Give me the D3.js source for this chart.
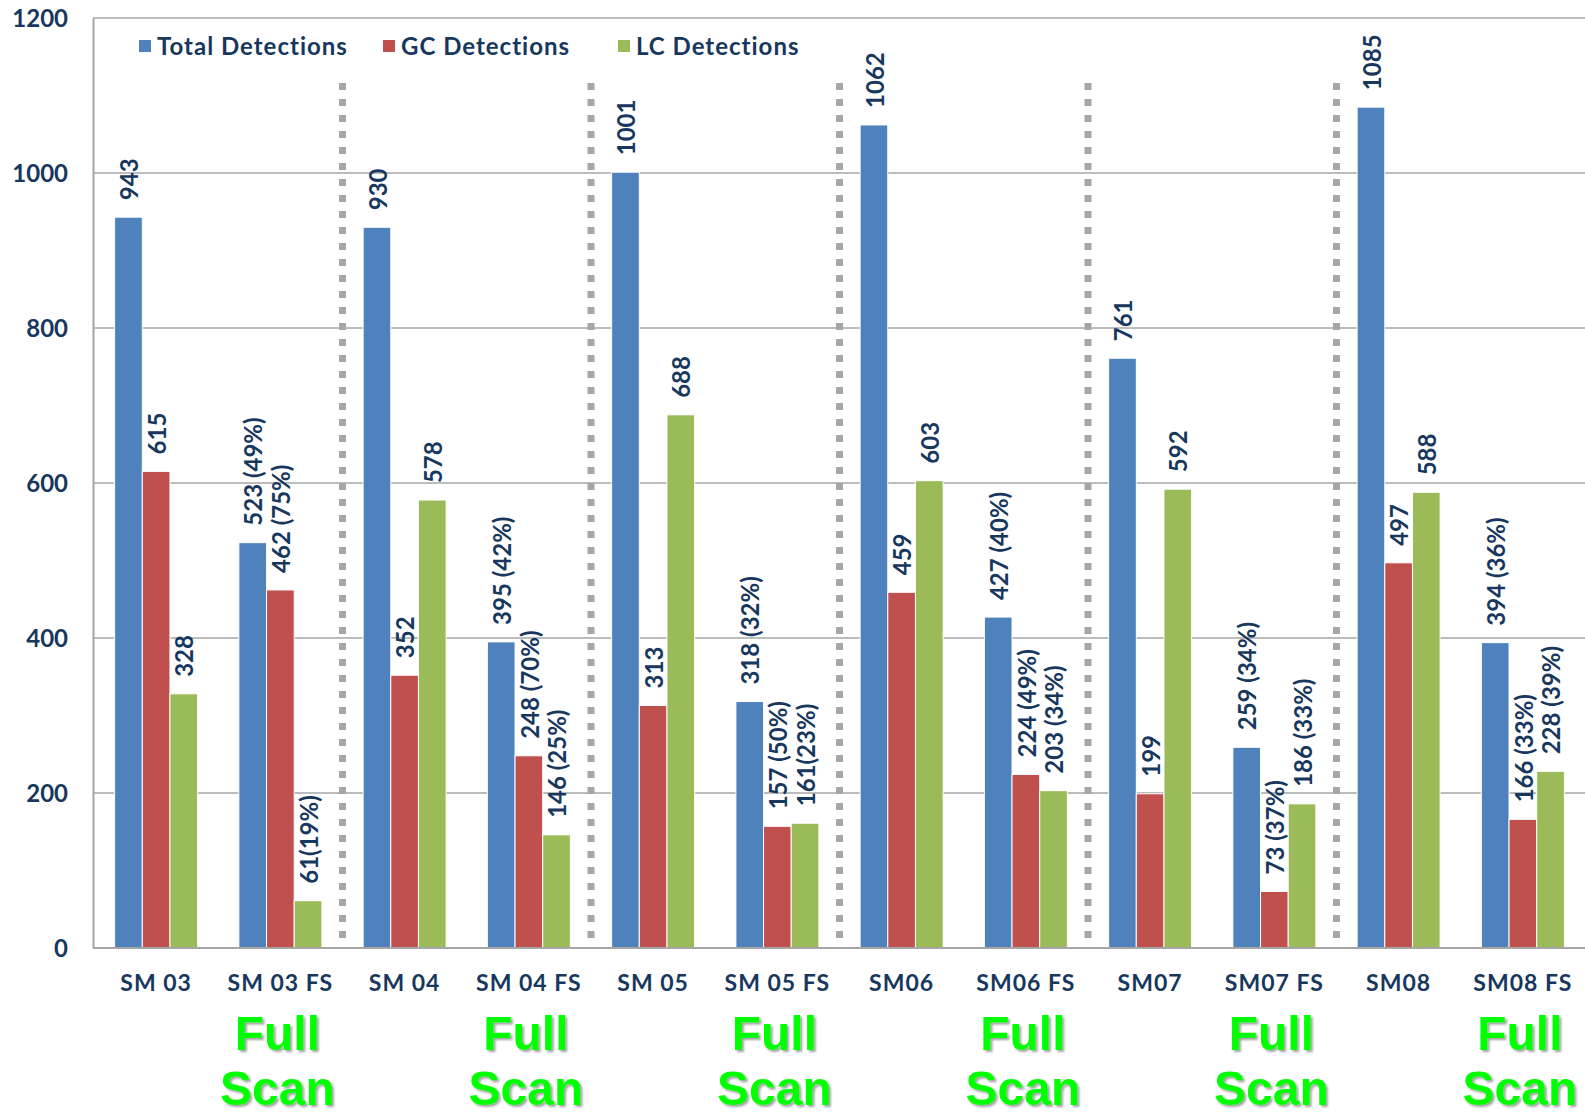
<!DOCTYPE html>
<html>
<head>
<meta charset="utf-8">
<script src="https://cdn.jsdelivr.net/npm/d3@7"></script>
<style>
  html, body { margin: 0; padding: 0; background: #fff; }
  svg { display: block; }
</style>
</head>
<body>
<svg id="chart" width="1585" height="1114"></svg>
<script>
// Detection counts per sample method; "FS" runs are full scans.
const categories = ["SM 03", "SM 03 FS", "SM 04", "SM 04 FS", "SM 05", "SM 05 FS",
                    "SM06", "SM06 FS", "SM07", "SM07 FS", "SM08", "SM08 FS"];
const totalDetections = [943, 523, 930, 395, 1001, 318, 1062, 427, 761, 259, 1085, 394];
const gcDetections    = [615, 462, 352, 248, 313, 157, 459, 224, 199, 73, 497, 166];
const lcDetections    = [328, 61, 578, 146, 688, 161, 603, 203, 592, 186, 588, 228];

// Share annotations printed after the full-scan counts.
const totalPct = ["", " (49%)", "", " (42%)", "", " (32%)", "", " (40%)", "", " (34%)", "", " (36%)"];
const gcPct    = ["", " (75%)", "", " (70%)", "", " (50%)", "", " (49%)", "", " (37%)", "", " (33%)"];
const lcPct    = ["", "(19%)", "", " (25%)", "", "(23%)", "", " (34%)", "", " (33%)", "", " (39%)"];

const seriesNames = ["Total Detections", "GC Detections", "LC Detections"];
const seriesColors = ["#4f81bd", "#c0504d", "#9bbb59"];
const yTicks = [0, 200, 400, 600, 800, 1000, 1200];
const scanNote = ["Full", "Scan"];

const series = [
  { name: seriesNames[0], values: totalDetections, pct: totalPct, color: seriesColors[0] },
  { name: seriesNames[1], values: gcDetections,    pct: gcPct,    color: seriesColors[1] },
  { name: seriesNames[2], values: lcDetections,    pct: lcPct,    color: seriesColors[2] }
];

const svg = d3.select("#chart");
const textColor = "#17375e";
const font = "Lato, 'Open Sans', sans-serif";

const plotLeft = 93, plotRight = 1585, plotTop = 18, plotBottom = 948;

const x = d3.scaleBand().domain(categories).range([plotLeft + 1, plotRight])
  .paddingInner(0.332).paddingOuter(0.166);
const xs = d3.scaleBand().domain(seriesNames).range([0, x.bandwidth()]);
const y = d3.scaleLinear().domain([0, 1200]).range([plotBottom, plotTop]);

// Drop shadow for the full-scan notes
const defs = svg.append("defs");
const f = defs.append("filter").attr("id", "shadow")
  .attr("x", "-10%").attr("y", "-10%").attr("width", "130%").attr("height", "130%");
f.append("feDropShadow").attr("dx", 2).attr("dy", 2).attr("stdDeviation", 1)
  .attr("flood-color", "#555").attr("flood-opacity", 0.55);

// Gridlines
svg.append("g").selectAll("line").data(yTicks.filter(d => d > 0)).join("line")
  .attr("x1", plotLeft).attr("x2", plotRight)
  .attr("y1", d => y(d)).attr("y2", d => y(d))
  .attr("stroke", "#a6a6a6").attr("stroke-width", 1.5);

// Y axis with tick labels
const yAxis = d3.axisLeft(y).tickValues(yTicks).tickFormat(d3.format("d"))
  .tickSize(0).tickPadding(25);
const yg = svg.append("g").attr("transform", `translate(${plotLeft},0)`).call(yAxis);
yg.select(".domain").attr("stroke", "#a6a6a6").attr("stroke-width", 2);
yg.selectAll("text")
  .attr("font-family", font).attr("font-weight", 700).attr("font-size", 24)
  .attr("fill", textColor).attr("dy", "0.36em");

// Category separators
const sepIdx = [2, 4, 6, 8, 10];
svg.append("g").selectAll("line").data(sepIdx).join("line")
  .attr("x1", i => x(categories[i]) - x.step() * x.paddingInner() / 2)
  .attr("x2", i => x(categories[i]) - x.step() * x.paddingInner() / 2)
  .attr("y1", 83).attr("y2", plotBottom)
  .attr("stroke", "#a6a6a6").attr("stroke-width", 7)
  .attr("stroke-dasharray", "7 9");

// Bars
const groups = svg.append("g").selectAll("g").data(categories).join("g")
  .attr("transform", d => `translate(${x(d)},0)`);

groups.selectAll("rect")
  .data((c, i) => series.map(s => ({ s, v: s.values[i] })))
  .join("rect")
  .attr("x", d => xs(d.s.name))
  .attr("width", xs.bandwidth())
  .attr("y", d => y(d.v))
  .attr("height", d => y(0) - y(d.v))
  .attr("fill", d => d.s.color)
  .attr("stroke", "#fff").attr("stroke-width", 1);

// Value labels (rotated)
groups.selectAll("text.val")
  .data((c, i) => series.map(s => ({ s, v: s.values[i], p: s.pct[i] })))
  .join("text").attr("class", "val")
  .attr("transform", d => `translate(${xs(d.s.name) + xs.bandwidth() / 2 + 1},${y(d.v) - 17}) rotate(-90)`)
  .attr("dy", "0.36em")
  .attr("font-family", font).attr("font-weight", 700).attr("font-size", 24)
  .attr("fill", textColor)
  .attr("xml:space", "preserve")
  .text(d => d.v + d.p);

// X axis baseline
svg.append("line").attr("x1", plotLeft).attr("x2", plotRight)
  .attr("y1", plotBottom).attr("y2", plotBottom)
  .attr("stroke", "#a6a6a6").attr("stroke-width", 2);

// Category labels
svg.append("g").selectAll("text").data(categories).join("text")
  .attr("x", d => x(d) + x.bandwidth() / 2)
  .attr("y", 991)
  .attr("text-anchor", "middle")
  .attr("font-family", font).attr("font-weight", 700).attr("font-size", 23)
  .attr("letter-spacing", 1)
  .attr("fill", textColor)
  .text(d => d);

// Full-scan notes under each FS category
const fsCats = categories.filter(c => /FS$/.test(c));
const notes = svg.append("g").attr("filter", "url(#shadow)");
fsCats.forEach(c => {
  scanNote.forEach((t, k) => {
    notes.append("text")
      .attr("x", x(c) + x.bandwidth() / 2 - 3)
      .attr("y", 1050 + k * 55)
      .attr("text-anchor", "middle")
      .attr("font-family", "'Liberation Sans', Arial, sans-serif")
      .attr("font-weight", 700).attr("font-size", 48)
      .attr("fill", "#00ff00")
      .text(t);
  });
});

// Legend
const legendX = [139, 383, 618];
const lg = svg.append("g").selectAll("g").data(series).join("g")
  .attr("transform", (d, i) => `translate(${legendX[i]},40)`);
lg.append("rect").attr("width", 12).attr("height", 12).attr("fill", d => d.color);
lg.append("text").attr("x", 18).attr("y", 6).attr("dy", "0.36em")
  .attr("font-family", font).attr("font-weight", 700).attr("font-size", 24)
  .attr("letter-spacing", 1)
  .attr("fill", textColor)
  .text(d => d.name);
</script>
</body>
</html>
